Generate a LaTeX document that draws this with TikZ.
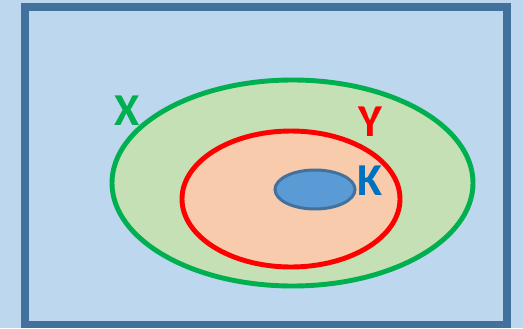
\documentclass[tikz,border=0pt]{standalone}
\usepackage{fontspec}
\setmainfont{Carlito}
\usetikzlibrary{positioning, shapes.geometric}
\definecolor{bgBlue}{HTML}{BDD7EE}
\definecolor{frameBlue}{HTML}{41719C}
\definecolor{setGreen}{HTML}{00B050}
\definecolor{fillGreen}{HTML}{C5E0B4}
\definecolor{fillPeach}{HTML}{F8CBAD}
\definecolor{setRed}{HTML}{FF0000}
\definecolor{fillBlue}{HTML}{5B9BD5}
\definecolor{textBlue}{HTML}{0070C0}

\begin{document}
\begin{tikzpicture}[x=0.02cm, y=-0.02cm,
  set/.style={ellipse, inner sep=0pt},
  lbl/.style={font=\fontsize{26}{28}\selectfont\bfseries, inner sep=0pt}
]
\fill[bgBlue] (0,0) rectangle (523,328);
\useasboundingbox (0,0) rectangle (523,328);
\draw[frameBlue, line width=4.5pt] (25,7) rectangle (507,324.5);

\node[set, draw=setGreen, fill=fillGreen, line width=2.8pt,
      minimum width=361*0.02cm, minimum height=206*0.02cm] (setX) at (292.5,183) {};
\node[set, draw=setRed, fill=fillPeach, line width=2.8pt,
      minimum width=218*0.02cm, minimum height=136*0.02cm] (setY) at (291,199) {};
\node[set, draw=frameBlue, fill=fillBlue, line width=1.7pt,
      minimum width=80*0.02cm, minimum height=39*0.02cm] (setK) at (315,189.5) {};

\node[lbl, text=setGreen] (labX) at (127,111) {X};
\node[lbl, text=setRed] (labY) at (370,122) {Y};
\node[lbl, text=textBlue] (labK) at (370,181) {K};
\end{tikzpicture}
\end{document}
